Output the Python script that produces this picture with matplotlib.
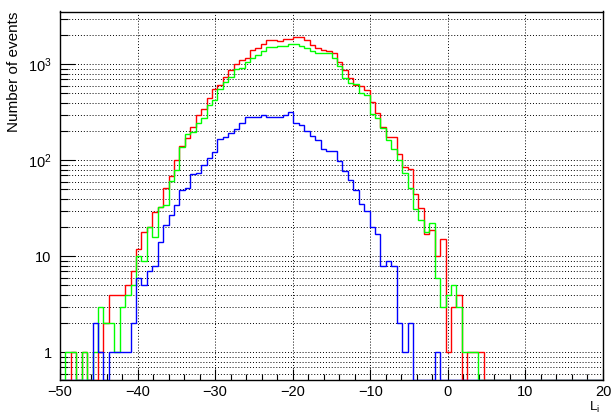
import numpy as np
import matplotlib
matplotlib.use('Agg')
import matplotlib.pyplot as plt
from matplotlib.ticker import MultipleLocator, FixedLocator, LogLocator, NullFormatter

plt.rcParams['font.family'] = ['Liberation Sans', 'DejaVu Sans']

# 100 bins of width 0.7 between -50 and 20
EDGES = np.linspace(-50, 20, 101)

RED = [0, 0, 1, 0, 1, 0, 0, 1, 2, 4,
       4, 4, 5, 7, 12, 18, 20, 29, 33, 52,
       68, 100, 141, 169, 221, 300, 342, 443, 553, 608,
       743, 880, 1000, 1100, 1150, 1410, 1490, 1620, 1790, 1790,
       1760, 1820, 1820, 1910, 1910, 1790, 1600, 1490, 1420, 1385,
       1300, 1050, 873, 720, 610, 590, 540, 405, 309, 224,
       176, 173, 115, 85, 82, 45, 32, 17, 19, 10,
       15, 1, 3, 4, 0, 1, 1, 1, 0, 0] + [0] * 20

GREEN = [0, 1, 1, 0, 1, 0, 1, 3, 2, 2,
         1, 3, 4, 5, 10, 9, 20, 16, 33, 34,
         61, 79, 137, 187, 195, 242, 275, 377, 425, 550,
         650, 743, 890, 922, 1050, 1150, 1250, 1385, 1520, 1500,
         1550, 1550, 1620, 1640, 1570, 1467, 1385, 1320, 1300, 1300,
         1150, 970, 720, 633, 620, 499, 479, 301, 278, 219,
         163, 131, 101, 73, 52, 31, 24, 18, 22, 6,
         3, 4, 5, 3, 1, 1, 1, 0, 0, 0] + [0] * 20

BLUE = [0, 0, 0, 0, 0, 0, 2, 1, 0, 1,
        1, 1, 1, 2, 6, 5, 7, 8, 14, 21,
        27, 34, 49, 52, 72, 73, 90, 106, 123, 168,
        175, 192, 210, 243, 285, 285, 280, 298, 280, 280,
        285, 298, 316, 243, 233, 204, 181, 163, 130, 126,
        126, 99, 78, 62, 49, 35, 30, 20, 17, 8,
        9, 8, 2, 1, 2, 0, 0, 0, 0, 1,
        0, 0, 0, 0, 0, 0, 0, 0, 0, 0] + [0] * 20

YMIN, YMAX = 0.515, 3550

fig = plt.figure(figsize=(6.13, 4.15), dpi=100)
ax = fig.add_axes([60 / 613, 1 - 380 / 415, 543 / 613, 368.5 / 415])

for vals, col in ((RED, '#ff0000'), (GREEN, '#00ff00'), (BLUE, '#0000ff')):
    v = np.asarray(vals, float)
    v = np.where(v > 0, v, YMIN)          # empty bins sit on the frame
    ax.stairs(v, EDGES, baseline=None, color=col, lw=1.0, zorder=3)

ax.set_yscale('log')
ax.set_xlim(-50, 20)
ax.set_ylim(YMIN, YMAX)

ax.xaxis.set_major_locator(MultipleLocator(10))
ax.xaxis.set_minor_locator(MultipleLocator(2))
ax.yaxis.set_major_locator(FixedLocator([1, 10, 100, 1000]))
ax.set_yticklabels(['1', '10', r'$\mathregular{10^{2}}$', r'$\mathregular{10^{3}}$'])
ax.yaxis.set_minor_locator(LogLocator(base=10, subs=range(2, 10)))
ax.yaxis.set_minor_formatter(NullFormatter())

ax.tick_params(which='both', direction='in', top=False, right=False,
               labelsize=10.5, width=0.8, color='k')
ax.tick_params(axis='x', which='major', length=8, pad=3.5)
ax.tick_params(axis='x', which='minor', length=4)
ax.tick_params(axis='y', which='major', length=11, pad=6)
ax.tick_params(axis='y', which='minor', length=5.5)

dots = dict(ls=(0, (1, 2)), color='k', lw=0.7)
ax.grid(True, axis='x', which='major', **dots)
ax.grid(True, axis='y', which='both', **dots)

for s in ax.spines.values():
    s.set_linewidth(1.0)

ax.set_ylabel('Number of events', loc='top', fontsize=11)
ax.yaxis.set_label_coords(-0.072, 1.0)
ax.set_xlabel(r'$\mathregular{L_{i}}$', loc='right', fontsize=9.5)
ax.xaxis.set_label_coords(0.995, -0.054)

fig.savefig('out.png', dpi=100)
